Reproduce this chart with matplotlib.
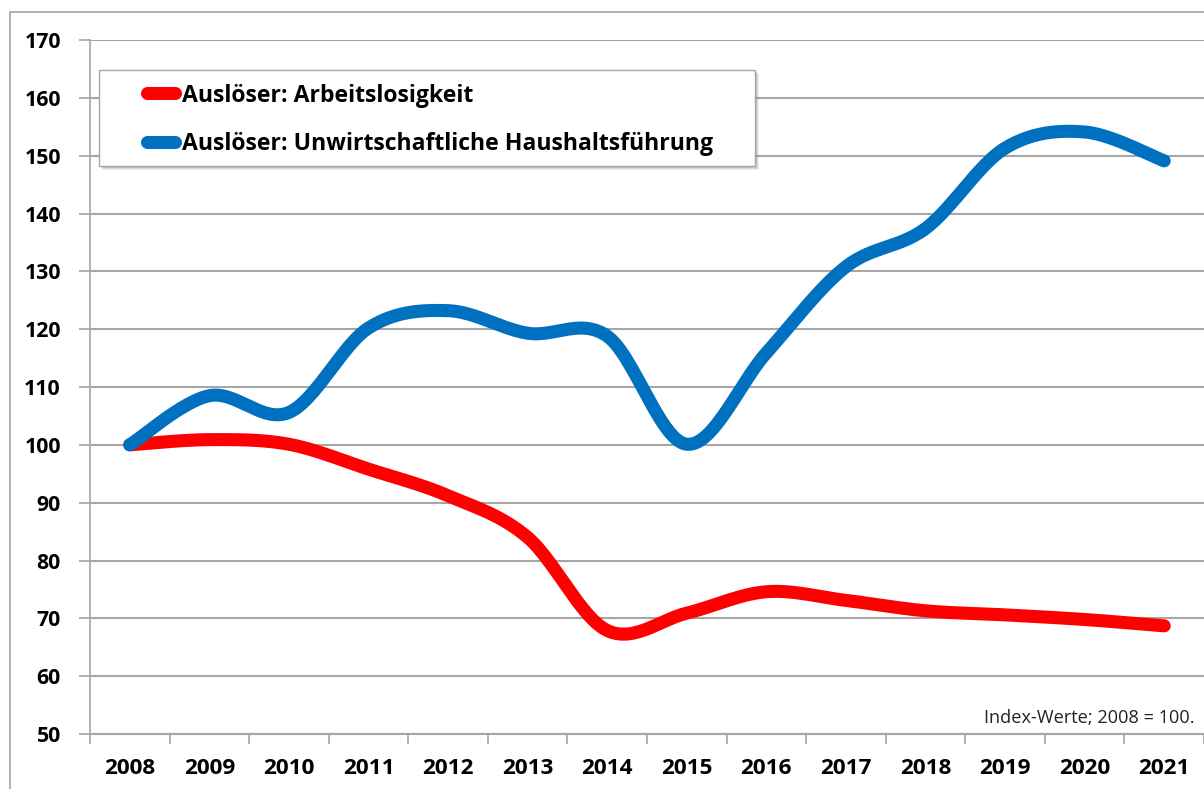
import numpy as np
import matplotlib
matplotlib.use("Agg")
import matplotlib.pyplot as plt
from matplotlib.patches import Rectangle
from matplotlib.lines import Line2D

years = ["2008", "2009", "2010", "2011", "2012", "2013", "2014",
         "2015", "2016", "2017", "2018", "2019", "2020", "2021"]
arbeitslosigkeit = [100, 100.9, 100.1, 95.8, 91.2, 84.0, 67.9,
                    70.9, 74.6, 73.1, 71.3, 70.6, 69.8, 68.7]
haushalt = [100, 108.5, 105.6, 120.2, 123.2, 119.3, 118.8,
            100.1, 115.9, 130.8, 137.4, 151.3, 154.1, 149.1]
labels = ["Auslöser: Arbeitslosigkeit",
          "Auslöser: Unwirtschaftliche Haushaltsführung"]
colors = ["#FF0000", "#0070C0"]
yticks = list(range(50, 171, 10))
note = "Index-Werte; 2008 = 100."

plt.rcParams['font.family'] = ['Open Sans', 'DejaVu Sans']


def smooth(x, y, n=30):
    """Catmull-Rom style smoothing (like Excel's smoothed line)."""
    x = np.asarray(x, float)
    y = np.asarray(y, float)
    px = np.concatenate([[x[0]], x, [x[-1]]])
    py = np.concatenate([[y[0]], y, [y[-1]]])
    xs, ys = [], []
    t = np.linspace(0, 1, n)
    for i in range(1, len(px) - 2):
        p0, p1, p2, p3 = (np.array([px[j], py[j]]) for j in (i - 1, i, i + 1, i + 2))
        c1 = p1 + (p2 - p0) / 6
        c2 = p2 - (p3 - p1) / 6
        b = ((1 - t) ** 3)[:, None] * p1 + (3 * (1 - t) ** 2 * t)[:, None] * c1 \
            + (3 * (1 - t) * t ** 2)[:, None] * c2 + (t ** 3)[:, None] * p2
        xs.extend(b[:, 0])
        ys.extend(b[:, 1])
    return np.array(xs), np.array(ys)


W, H = 1204, 789
fig = plt.figure(figsize=(W / 100, H / 100), dpi=100)
renderer = fig.canvas.get_renderer()


def fx(px):
    return px / W


def fy(py):
    return 1 - py / H


def fit_size(txt, target_px):
    w = txt.get_window_extent(renderer).width
    return txt.get_fontsize() * target_px / w


# outer chart border
fig.patches.append(Rectangle((fx(10), -0.1), 1.2, fy(12) + 0.1,
                             transform=fig.transFigure, fill=False,
                             edgecolor="#A6A6A6", linewidth=1.2))

ax = fig.add_axes([fx(90), fy(734), 1114 / W, (734 - 40) / H])
x = np.arange(len(years))

for vals, lab, col in zip([arbeitslosigkeit, haushalt], labels, colors):
    sx, sy = smooth(x, vals)
    ax.plot(sx, sy, color=col, linewidth=9.4, solid_capstyle="round",
            solid_joinstyle="round", label=lab, zorder=3)

ax.set_xlim(-0.5, len(years) - 0.5)
ax.set_ylim(50, 170)
ax.set_yticks(yticks)
ax.set_yticklabels([str(v) for v in yticks], fontweight="bold")
ax.set_xticks(x)
ax.set_xticklabels(years, fontweight="bold")
ax.set_xticks(np.arange(-0.5, len(years), 1), minor=True)
ax.tick_params(axis="x", which="major", length=0, pad=17)
ax.tick_params(axis="x", which="minor", length=7, color="#A6A6A6", width=1.2)
ax.tick_params(axis="y", length=8, color="#A6A6A6", width=1.2, pad=13)
ax.grid(axis="y", color="#A6A6A6", linewidth=1.5, zorder=0)
ax.set_axisbelow(True)
for s in ["top", "right"]:
    ax.spines[s].set_visible(False)
ax.spines["left"].set_color("#A6A6A6")
ax.spines["left"].set_linewidth(1.2)
ax.spines["bottom"].set_color("#A6A6A6")
ax.spines["bottom"].set_linewidth(1.5)

# size tick labels to match reference widths
fig.canvas.draw()
xs_ = fit_size(ax.get_xticklabels()[0], 51.5)
ax.tick_params(axis="x", which="major", labelsize=xs_)
ax.tick_params(axis="y", labelsize=xs_ * 0.95)

t_note = fig.text(fx(1195), fy(718), note, ha="right", va="center",
                  fontsize=12, color="#222222")
t_note.set_fontsize(fit_size(t_note, 210))

# legend box (manual layout to match reference)
bx0, by0, bx1, by1 = 99, 70.5, 755, 166
for k, a in zip([4, 3, 2], [0.12, 0.18, 0.25]):
    fig.patches.append(Rectangle((fx(bx0 + k), fy(by1 + k)), (bx1 - bx0) / W,
                                 (by1 - by0) / H, transform=fig.transFigure,
                                 facecolor="#808080", edgecolor="none",
                                 alpha=a, zorder=4))
fig.patches.append(Rectangle((fx(bx0), fy(by1)), (bx1 - bx0) / W,
                             (by1 - by0) / H, transform=fig.transFigure,
                             facecolor="white", edgecolor="#A6A6A6",
                             linewidth=1.0, zorder=5))
rows = [(93.3, 101.7), (141.7, 150.0)]
leg_texts = []
for (cy, base), lab, col in zip(rows, labels, colors):
    fig.add_artist(Line2D([fx(147), fx(175)], [fy(cy), fy(cy)],
                          transform=fig.transFigure, color=col,
                          linewidth=9.4, solid_capstyle="round", zorder=6))
    leg_texts.append(fig.text(fx(182), fy(base), lab, ha="left",
                              va="baseline", fontsize=16,
                              fontweight="bold", color="black", zorder=6))
ls = fit_size(leg_texts[1], 533)
for t in leg_texts:
    t.set_fontsize(ls)

fig.savefig("out.png", dpi=100)
